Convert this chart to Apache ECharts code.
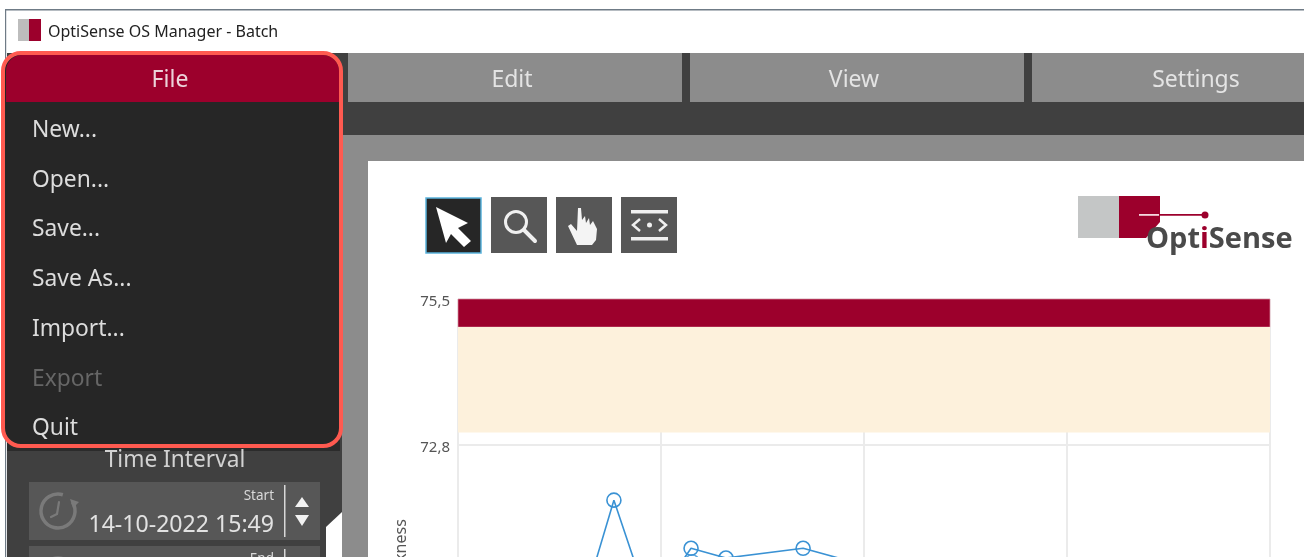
<!DOCTYPE html>
<html>
<head>
<meta charset="utf-8">
<style>html,body{margin:0;padding:0;background:#fff;overflow:hidden}#c{width:1304px;height:557px}</style>
<script src="https://cdn.jsdelivr.net/npm/echarts@6/dist/echarts.min.js"></script>
</head>
<body>
<div id="c"></div>
<script>
// chart data
const thicknessX = [0.552, 0.768, 0.946, 1.148, 1.32, 1.70, 2.03, 2.2];
const thicknessY = [69.06, 71.78, 69.79, 70.89, 70.71, 70.89, 70.55, 69.2];
const extraPointX = [1.153];
const extraPointY = [70.64];
const yTicks = [75.5, 72.8, 70.1, 67.4];
const alarmBand = [74.98, 75.5];
const warningBand = [73.03, 74.98];
const yAxisTitle = 'Thickness';
// interface text
const windowTitle = 'OptiSense OS Manager - Batch';
const menuTabs = ['File', 'Edit', 'View', 'Settings'];
const fileMenuItems = ['New...', 'Open...', 'Save...', 'Save As...', 'Import...', 'Export', 'Quit'];
const disabledItem = 'Export';
const startDate = '14-10-2022 15:49';

const FONT = '"Noto Sans", sans-serif';
const rect = (x, y, w, h, fill, extra) => Object.assign({type:'rect', shape:{x, y, width:w, height:h}, style:{fill}}, extra || {});
const text = (t, x, y, size, fill, align, weight) => ({type:'text', style:{text:t, x, y, fill, font:(weight||'normal')+' '+size+'px '+FONT, textAlign:align||'left', textVerticalAlign:'middle', align:align||'left', verticalAlign:'middle'}});
const poly = (points, fill) => ({type:'polygon', shape:{points}, style:{fill}});
const line = (x1, y1, x2, y2, stroke, w) => ({type:'line', shape:{x1, y1, x2, y2}, style:{stroke, lineWidth:w, lineCap:'round'}});
const circle = (cx, cy, r, stroke, w, fill) => ({type:'circle', shape:{cx, cy, r}, style:{stroke, lineWidth:w, fill:fill||'none'}});

const chrome = [];
// window frame and title bar
chrome.push(rect(5, 9, 1299, 1.5, '#6f7b86'), rect(5, 9, 1.2, 548, '#6f7b86'));
chrome.push(rect(18, 19, 11, 22, '#bdbdbd'), rect(29, 19, 12, 22, '#9c002c'));
chrome.push(text(windowTitle, 48, 32, 16, '#222222'));
// dark frame and menu row
chrome.push(rect(7, 53, 1297, 82, '#404040'));
chrome.push(rect(7, 135, 335, 422, '#404040'));
chrome.push(rect(342, 135, 962, 26, '#8c8c8c'), rect(342, 161, 26, 396, '#8c8c8c'));
[[348, 334, 512], [690, 334, 854], [1032, 272, 1196]].forEach((b, i) => {
  chrome.push(rect(b[0], 53, b[1], 49, '#8c8c8c'));
  chrome.push(text(menuTabs[i + 1], b[2], 80, 23, '#e4e4e4', 'center'));
});
// time interval panel
chrome.push(rect(7, 440, 333, 11, '#2b2b2b'));
chrome.push(text('Time Interval', 175, 461, 22.7, '#d2d2d2', 'center'));
chrome.push(rect(29, 482, 291, 58, '#575757'), rect(29, 546, 291, 20, '#575757'));
chrome.push(text('Start', 274, 496, 13.5, '#d8d8d8', 'right'));
chrome.push(text(startDate, 274, 525, 23.1, '#e2e2e2', 'right'));
chrome.push(text('End', 274, 559, 13.5, '#d8d8d8', 'right'));
chrome.push(rect(284, 485, 1.5, 52, '#d8d8d8'), rect(284, 549, 1.5, 10, '#d8d8d8'));
chrome.push(poly([[295,507],[309,507],[302,497]], '#f2f2f2'), poly([[295,515],[309,515],[302,526]], '#f2f2f2'));
// clock icon
chrome.push({type:'arc', shape:{cx:58, cy:511, r:17, startAngle:-0.55, endAngle:5.0}, style:{stroke:'#7a7a7a', lineWidth:3.5, fill:'none'}});
chrome.push(poly([[70,499],[79,502],[73,508]], '#7a7a7a'));
chrome.push(line(59, 502, 57, 514, '#7a7a7a', 2.2), line(57, 514, 51, 517, '#7a7a7a', 2.2));
chrome.push(circle(58, 575, 17, '#7a7a7a', 3.5));
// white notch at the right of the panel
chrome.push(poly([[342,512],[326,527],[326,557],[342,557]], '#ffffff'));
// file menu overlay
chrome.push(rect(3, 53, 338, 393, '#262626', {shape:{x:3, y:53, width:338, height:393, r:18}}));
chrome.push({type:'rect', shape:{x:6, y:55, width:333, height:47, r:[16,16,0,0]}, style:{fill:'#9c002c'}});
chrome.push(text(menuTabs[0], 170, 80, 23, '#ecd3da', 'center'));
[131, 181, 230, 280, 330, 380, 429].forEach((y, i) => {
  const item = fileMenuItems[i];
  chrome.push(text(item, 32, y, 22.8, item === disabledItem ? '#666666' : '#dcdcdc'));
});
chrome.push({type:'rect', shape:{x:3, y:53, width:338, height:393, r:18}, style:{fill:'none', stroke:'#ff5a50', lineWidth:4}});
// toolbar buttons
chrome.push({type:'rect', shape:{x:426, y:198, width:55, height:55}, style:{fill:'#262626', stroke:'#5ab2dc', lineWidth:1.5}});
[491, 556, 621].forEach(x => chrome.push(rect(x, 197, 56, 56, '#575757')));
chrome.push(poly([[436,207],[468,223],[458,228],[471,241],[464,247],[451,234],[446,243]], '#ffffff'));
chrome.push(circle(516, 222, 10.5, '#f0f0f0', 3), line(524, 230, 535, 241, '#f0f0f0', 4));
chrome.push({type:'polygon', shape:{points:[[568,226],[571,224],[577,231],[578,208],[581,208],[582,220],[585,216],[586,223],[589,218],[590,225],[593,221],[597,229],[596,240],[592,245],[577,245]]}, style:{fill:'#f4f4f4'}});
chrome.push(rect(631, 210, 37, 3.5, '#f0f0f0'), rect(631, 237, 37, 3.5, '#f0f0f0'));
chrome.push({type:'polyline', shape:{points:[[640,219],[633,225],[640,231]]}, style:{fill:'none', stroke:'#f0f0f0', lineWidth:2.5}});
chrome.push({type:'polyline', shape:{points:[[659,219],[666,225],[659,231]]}, style:{fill:'none', stroke:'#f0f0f0', lineWidth:2.5}});
chrome.push({type:'circle', shape:{cx:649.5, cy:225, r:2.5}, style:{fill:'#f0f0f0'}});
// logo
chrome.push(rect(1078, 196, 41, 42, '#c4c6c6'));
chrome.push(poly([[1119,196],[1160,196],[1160,222],[1146,238],[1119,238]], '#9c002c'));
chrome.push(rect(1139, 214, 20, 1.8, '#f4d8df'), rect(1160, 214, 45, 1.8, '#9c002c'));
chrome.push({type:'circle', shape:{cx:1205, cy:215, r:3.5}, style:{fill:'#9c002c'}});
chrome.push({type:'text', style:{x:1146, y:240, text:'{a|Opt}{b|i}{a|Sense}', textVerticalAlign:'middle', verticalAlign:'middle', rich:{
  a:{font:'bold 29px "Open Sans", sans-serif', fill:'#4a4a4a'},
  b:{font:'bold 29px "Open Sans", sans-serif', fill:'#9c002c'}
}}});

const xy = (xs, ys) => xs.map((x, i) => [x, ys[i]]);
const blue = '#3a92d4';
const option = {
  animation:false,
  backgroundColor:'#ffffff',
  grid:{left:458, top:299, width:812, height:513.7, outerBoundsMode:'none', containLabel:false},
  xAxis:{type:'value', min:0, max:4, interval:1,
    axisLine:{show:false}, axisTick:{show:false}, axisLabel:{show:false},
    splitLine:{show:true, lineStyle:{color:'#ebebeb', width:2}}},
  yAxis:{type:'value', min:66, max:75.5,
    name:yAxisTitle, nameLocation:'middle', nameGap:49, nameRotate:90,
    nameTextStyle:{color:'#555555', fontSize:16, fontFamily:FONT},
    axisLine:{show:false},
    axisTick:{show:false, customValues:yTicks},
    axisLabel:{customValues:yTicks, color:'#555555', fontSize:15, fontFamily:FONT, margin:8,
      rich:{v:{color:'#555555', fontSize:15, fontFamily:FONT, padding:[5,0,0,0]}},
      formatter:v => '{v|' + v.toFixed(1).replace('.', ',') + '}'},
    splitLine:{show:true, lineStyle:{color:'#ebebeb', width:2}}},
  series:[
    {type:'line', name:yAxisTitle, data:xy(thicknessX, thicknessY), symbol:'circle', symbolSize:14, showAllSymbol:true,
      clip:false,
      lineStyle:{color:blue, width:1.6},
      itemStyle:{color:'rgba(0,0,0,0)', borderColor:blue, borderWidth:1.6},
      markArea:{silent:true, data:[
        [{yAxis:alarmBand[0], itemStyle:{color:'#9c002c', borderColor:'#e8a9b8', borderWidth:0.6}}, {yAxis:alarmBand[1]}],
        [{yAxis:warningBand[0], itemStyle:{color:'#fdf1dc'}}, {yAxis:warningBand[1]}]
      ]}},
    {type:'scatter', name:'extra', data:xy(extraPointX, extraPointY), symbol:'circle', symbolSize:14,
      itemStyle:{color:'rgba(0,0,0,0)', borderColor:blue, borderWidth:1.6}}
  ],
  graphic:{elements:[{type:'group', silent:true, children:chrome}]}
};
const chart = echarts.init(document.getElementById('c'), null, {renderer:'canvas'});
chart.setOption(option);
</script>
</body>
</html>
